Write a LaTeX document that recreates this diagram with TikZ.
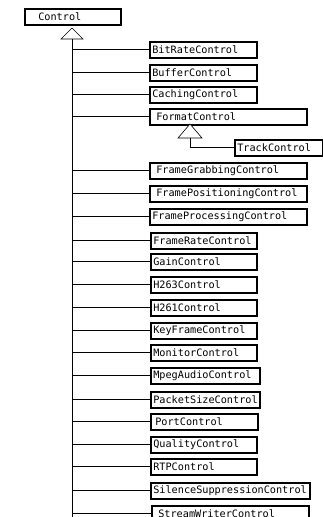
\documentclass[tikz,border=0pt]{standalone}
\usepackage{fontspec}
\setmonofont{DejaVu Sans Mono}
\tikzset{
  cls/.style={draw, line width=1.6pt, anchor=north west, minimum height=16pt,
    inner xsep=2.5pt, inner ysep=0pt, align=left,
    font=\ttfamily\fontsize{10.2}{11}\selectfont},
  link/.style={line width=0.8pt},
  gen/.style={line width=0.6pt, fill=white}
}
\begin{document}
\begin{tikzpicture}[x=1pt, y=-1pt]
  \useasboundingbox (0,0) rectangle (322,517);
  % root class
  \node[cls, text width=91pt] (ctl) at (24,8) {\hspace*{11pt}Control};
  \draw[gen] (72,28) -- (61,39) -- (83,39) -- cycle;
  \coordinate (base) at (72,39);
  \coordinate (trunkend) at (72,517);
  \draw[link] (base) -- (trunkend);
  % subclasses
  \foreach \nm/\xl/\yt/\tw/\ind/\txt in {
      brc/149/41/102/0/BitRateControl,
      bfc/149/64/102/0/BufferControl,
      cac/149/86/102/0/CachingControl,
      fmc/149/108/152/4/FormatControl,
      fgc/149/162/152/4/FrameGrabbingControl,
      fpc/149/185/152/4/FramePositioningControl,
      fpr/149/208/152/0/FrameProcessingControl,
      frc/150/232/101/0/FrameRateControl,
      gnc/150/253/101/0/GainControl,
      hsa/150/276/101/0/H263Control,
      hsb/150/299/101/0/H261Control,
      kfc/150/322/101/0/KeyFrameControl,
      mnc/150/344/101/0/MonitorControl,
      mac/150/367/104/0/MpegAudioControl,
      psc/150/391/104/0/PacketSizeControl,
      ptc/150/413/102/2/PortControl,
      qlc/150/436/101/0/QualityControl,
      rtp/150/458/101/0/RTPControl,
      ssc/150/482/154/0/SilenceSuppressionControl,
      swc/151/505/152/4/StreamWriterControl}
  {
    \node[cls, text width=\tw pt] (\nm) at (\xl,\yt) {\hspace*{\ind pt}\txt};
    \draw[link] (base |- \nm.west) -- (\nm.west);
  }
  % second level
  \draw[gen] (190,124) -- (178,138) -- (202,138) -- cycle;
  \coordinate (fbase) at (190,138);
  \node[cls, text width=83pt] (trc) at (234,139) {TrackControl};
  \draw[link] (fbase) |- (trc.west);
\end{tikzpicture}
\end{document}
